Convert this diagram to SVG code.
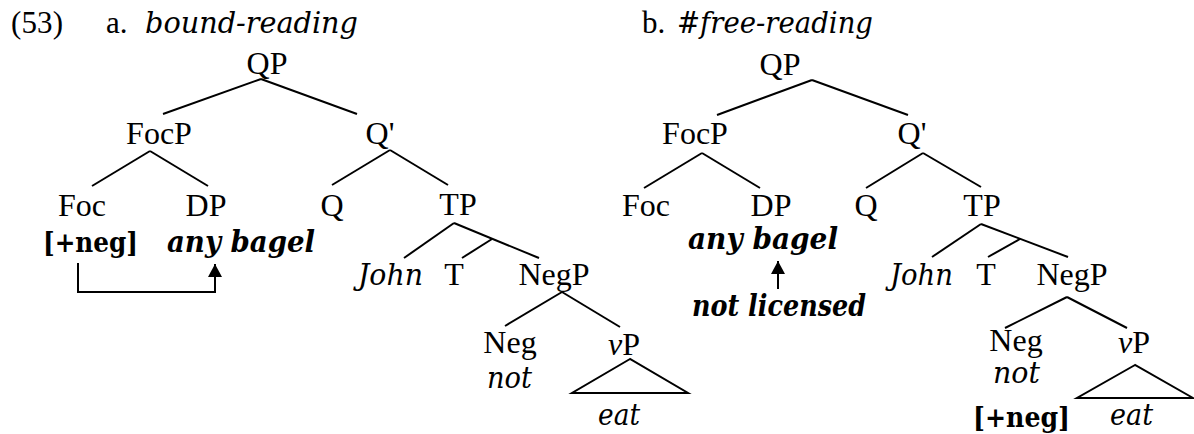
<svg xmlns="http://www.w3.org/2000/svg" width="1194" height="434" viewBox="0 0 1194 434">
<defs>
<style>
.lbl{font-family:"Liberation Serif","Times New Roman",serif;font-size:32px;fill:#000;text-anchor:middle}
.hd{font-family:"Liberation Serif","Times New Roman",serif;font-size:31px;fill:#000}
.it{font-family:"DejaVu Serif",Georgia,serif;font-style:italic;font-size:29px;fill:#000}
.bd{font-family:"DejaVu Serif",Georgia,serif;font-weight:bold;font-size:28px;fill:#000}
.bi{font-family:"DejaVu Serif",Georgia,serif;font-weight:bold;font-style:italic;font-size:29px;fill:#000}
.edge{stroke:#000;stroke-width:2;fill:none}
.tri{stroke:#000;stroke-width:2;fill:none;stroke-linejoin:miter}
</style>
<marker id="ah" viewBox="0 0 13 14" refX="13" refY="7" markerWidth="13" markerHeight="14" orient="auto" markerUnits="userSpaceOnUse">
<path d="M0,0 L13,7 L0,14 z" fill="#000"/>
</marker>
</defs>
<rect width="1194" height="434" fill="#fff"/>

<g id="header">
<text class="hd" x="11" y="33" textLength="52">(53)</text>
<text class="hd" x="106" y="33">a.</text>
<text class="it" x="145" y="33" textLength="213" lengthAdjust="spacingAndGlyphs">bound-reading</text>
<text class="hd" x="642" y="33">b.</text>
<text class="it" x="677" y="33" textLength="196" lengthAdjust="spacingAndGlyphs">#free-reading</text>
</g>

<g id="connectors">
<!-- tree a -->
<line class="edge" x1="261" y1="79" x2="163" y2="114"/>
<line class="edge" x1="261" y1="79" x2="357" y2="114"/>
<line class="edge" x1="150" y1="151" x2="92" y2="186"/>
<line class="edge" x1="150" y1="151" x2="208" y2="186"/>
<line class="edge" x1="390" y1="150" x2="332" y2="185"/>
<line class="edge" x1="390" y1="150" x2="448" y2="185"/>
<line class="edge" x1="454" y1="223" x2="404" y2="258"/>
<line class="edge" x1="454" y1="223" x2="539" y2="258"/>
<line class="edge" x1="492" y1="239" x2="462" y2="258"/>
<line class="edge" x1="562" y1="292" x2="505" y2="326"/>
<line class="edge" x1="562" y1="292" x2="620" y2="327"/>
<polygon class="tri" points="630,359 572,393 688,393"/>
<path class="edge" d="M78,263 V292 H215 V264" marker-end="url(#ah)"/>
<!-- tree b -->
<line class="edge" x1="812" y1="80" x2="717" y2="115"/>
<line class="edge" x1="812" y1="80" x2="908" y2="115"/>
<line class="edge" x1="702" y1="153" x2="644" y2="188"/>
<line class="edge" x1="702" y1="153" x2="760" y2="188"/>
<line class="edge" x1="923" y1="153" x2="866" y2="188"/>
<line class="edge" x1="923" y1="153" x2="981" y2="187"/>
<line class="edge" x1="981" y1="224" x2="932" y2="257"/>
<line class="edge" x1="981" y1="224" x2="1068" y2="257"/>
<line class="edge" x1="1020" y1="239" x2="988" y2="257"/>
<line class="edge" x1="1067" y1="297" x2="1005" y2="328"/>
<line class="edge" x1="1067" y1="297" x2="1127" y2="328"/>
<polygon class="tri" points="1135,365 1077,398 1193,398"/>
<path class="edge" d="M778,289 V261" marker-end="url(#ah)"/>
</g>

<g id="a-QP"><text class="lbl" x="267" y="74">QP</text></g>
<g id="a-FocP"><text class="lbl" x="159" y="144">FocP</text></g>
<g id="a-Qbar"><text class="lbl" x="380" y="144">Q'</text></g>
<g id="a-Foc"><text class="lbl" x="82" y="216">Foc</text><text class="bd" x="43" y="252" textLength="95" lengthAdjust="spacingAndGlyphs">[+neg]</text></g>
<g id="a-DP"><text class="lbl" x="206" y="216">DP</text><text class="bi" x="167" y="252" textLength="148" lengthAdjust="spacingAndGlyphs">any bagel</text></g>
<g id="a-Q"><text class="lbl" x="332" y="216">Q</text></g>
<g id="a-TP"><text class="lbl" x="458" y="215">TP</text></g>
<g id="a-John"><text class="it" x="358" y="285" textLength="65" lengthAdjust="spacingAndGlyphs">John</text></g>
<g id="a-T"><text class="lbl" x="454" y="285">T</text></g>
<g id="a-NegP"><text class="lbl" x="554" y="285">NegP</text></g>
<g id="a-Neg"><text class="lbl" x="510" y="353">Neg</text><text class="it" x="487" y="388" textLength="45" lengthAdjust="spacingAndGlyphs">not</text></g>
<g id="a-vP"><text class="lbl" x="624" y="355"><tspan font-style="italic">v</tspan>P</text><text class="it" x="598" y="425" textLength="42" lengthAdjust="spacingAndGlyphs">eat</text></g>

<g id="b-QP"><text class="lbl" x="780" y="75">QP</text></g>
<g id="b-FocP"><text class="lbl" x="695" y="144">FocP</text></g>
<g id="b-Qbar"><text class="lbl" x="912" y="144">Q'</text></g>
<g id="b-Foc"><text class="lbl" x="646" y="216">Foc</text></g>
<g id="b-DP"><text class="lbl" x="771" y="216">DP</text><text class="bi" x="688" y="249" textLength="150" lengthAdjust="spacingAndGlyphs">any bagel</text><text class="bi" x="692" y="316" textLength="174" lengthAdjust="spacingAndGlyphs">not licensed</text></g>
<g id="b-Q"><text class="lbl" x="866" y="216">Q</text></g>
<g id="b-TP"><text class="lbl" x="982" y="216">TP</text></g>
<g id="b-John"><text class="it" x="890" y="285" textLength="63" lengthAdjust="spacingAndGlyphs">John</text></g>
<g id="b-T"><text class="lbl" x="986" y="285">T</text></g>
<g id="b-NegP"><text class="lbl" x="1072" y="285">NegP</text></g>
<g id="b-Neg"><text class="lbl" x="1016" y="351">Neg</text><text class="it" x="993" y="383" textLength="47" lengthAdjust="spacingAndGlyphs">not</text><text class="bd" x="973" y="427" textLength="97" lengthAdjust="spacingAndGlyphs">[+neg]</text></g>
<g id="b-vP"><text class="lbl" x="1134" y="353"><tspan font-style="italic">v</tspan>P</text><text class="it" x="1110" y="425" textLength="43" lengthAdjust="spacingAndGlyphs">eat</text></g>
</svg>
